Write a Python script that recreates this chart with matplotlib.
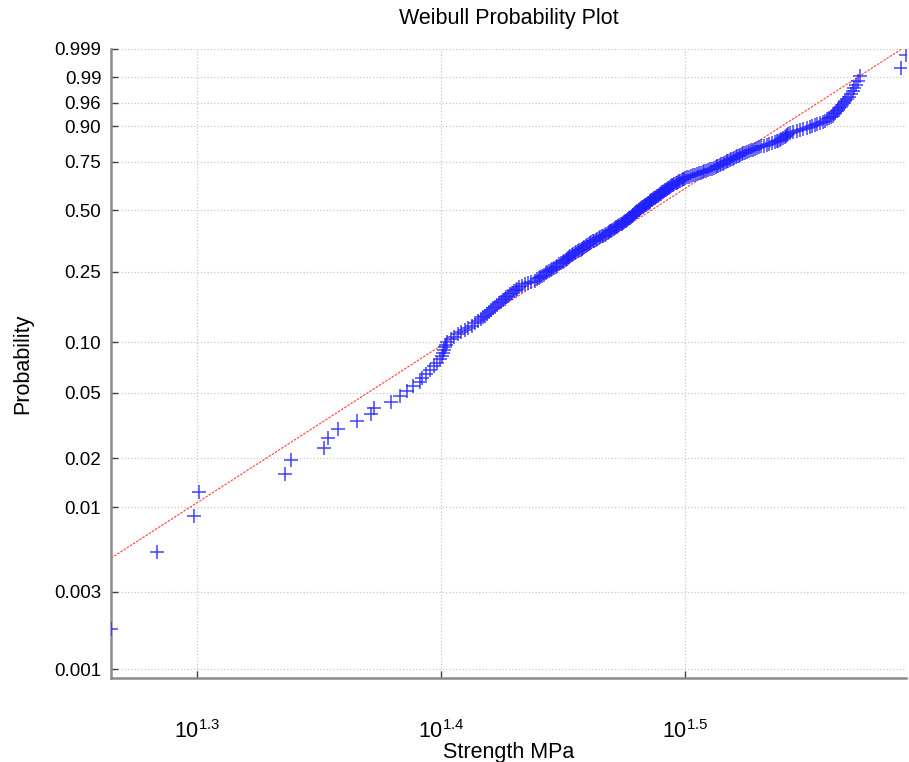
import numpy as np
import matplotlib
matplotlib.use('Agg')
import matplotlib.pyplot as plt

# sorted strength values (MPa)
strength = [
    18.40, 19.21, 19.90, 20.00, 21.69, 21.80, 22.50, 22.59, 22.79, 23.20,
    23.51, 23.58, 23.97, 24.16, 24.34, 24.47, 24.63, 24.67, 24.76, 24.86,
    24.95, 25.03, 25.11, 25.15, 25.18, 25.20, 25.22, 25.24, 25.27, 25.36,
    25.44, 25.52, 25.61, 25.69, 25.78, 25.86, 25.94, 26.01, 26.08, 26.13,
    26.19, 26.24, 26.29, 26.34, 26.39, 26.44, 26.49, 26.54, 26.58, 26.63,
    26.68, 26.72, 26.77, 26.82, 26.86, 26.91, 26.96, 27.00, 27.05, 27.12,
    27.20, 27.28, 27.36, 27.44, 27.51, 27.55, 27.59, 27.64, 27.69, 27.73,
    27.77, 27.81, 27.86, 27.90, 27.95, 27.99, 28.04, 28.09, 28.13, 28.18,
    28.22, 28.27, 28.30, 28.33, 28.35, 28.38, 28.42, 28.46, 28.50, 28.54,
    28.58, 28.62, 28.66, 28.69, 28.73, 28.76, 28.80, 28.84, 28.88, 28.92,
    28.95, 29.00, 29.03, 29.08, 29.11, 29.16, 29.19, 29.24, 29.28, 29.32,
    29.36, 29.40, 29.43, 29.47, 29.50, 29.53, 29.57, 29.60, 29.63, 29.67,
    29.70, 29.73, 29.76, 29.79, 29.82, 29.85, 29.88, 29.91, 29.94, 29.97,
    30.00, 30.02, 30.05, 30.07, 30.10, 30.12, 30.15, 30.17, 30.20, 30.22,
    30.24, 30.27, 30.29, 30.32, 30.35, 30.38, 30.40, 30.43, 30.45, 30.48,
    30.51, 30.53, 30.56, 30.59, 30.61, 30.64, 30.66, 30.69, 30.72, 30.74,
    30.77, 30.80, 30.82, 30.85, 30.88, 30.91, 30.93, 30.96, 30.99, 31.01,
    31.04, 31.07, 31.09, 31.12, 31.15, 31.18, 31.20, 31.24, 31.28, 31.31,
    31.35, 31.39, 31.42, 31.46, 31.49, 31.53, 31.56, 31.60, 31.64, 31.70,
    31.75, 31.81, 31.87, 31.93, 31.98, 32.04, 32.10, 32.16, 32.21, 32.27,
    32.33, 32.39, 32.45, 32.50, 32.56, 32.60, 32.64, 32.69, 32.73, 32.77,
    32.82, 32.87, 32.91, 32.95, 33.00, 33.04, 33.09, 33.13, 33.18, 33.23,
    33.28, 33.32, 33.37, 33.42, 33.48, 33.54, 33.60, 33.66, 33.73, 33.78,
    33.85, 33.91, 33.98, 34.08, 34.17, 34.25, 34.34, 34.43, 34.50, 34.54,
    34.59, 34.63, 34.68, 34.74, 34.78, 34.83, 34.87, 34.93, 35.03, 35.14,
    35.25, 35.36, 35.48, 35.57, 35.65, 35.74, 35.83, 35.93, 36.03, 36.08,
    36.15, 36.22, 36.29, 36.35, 36.40, 36.44, 36.49, 36.53, 36.58, 36.63,
    36.68, 36.73, 36.79, 36.85, 36.92, 36.99, 37.05, 37.10, 37.16, 37.22,
    37.29, 38.77, 38.96,
]

prob_ticks = [0.001, 0.003, 0.01, 0.02, 0.05, 0.10, 0.25, 0.50, 0.75, 0.90, 0.96, 0.99, 0.999]
prob_labels = ['0.001', '0.003', '0.01', '0.02', '0.05', '0.10', '0.25', '0.50',
               '0.75', '0.90', '0.96', '0.99', '0.999']
x_tick_exp = [1.3, 1.4, 1.5]

# reference line (weibull fit)
wbl_scale = 31.81
wbl_shape = 9.73

plt.rcParams['font.family'] = ['Liberation Sans', 'DejaVu Sans']
plt.rcParams['mathtext.default'] = 'regular'


def wbl_fwd(p):
    p = np.clip(p, 1e-12, 1 - 1e-12)
    return np.log(-np.log(1 - p))


def wbl_inv(w):
    return 1 - np.exp(-np.exp(w))


x = np.sort(np.array(strength))
n = len(x)
p = (np.arange(1, n + 1) - 0.5) / n

fig = plt.figure(figsize=(9.09, 7.62), dpi=100)
ax = fig.add_axes([111 / 909, 84 / 762, 795 / 909, 629 / 762])

ax.set_xscale('log')
ax.set_yscale('function', functions=(wbl_fwd, wbl_inv))

xl = np.array([x[0], x[-1]])
pl = 1 - np.exp(-(xl / wbl_scale) ** wbl_shape)
ax.plot(xl, pl, color='#ff5050', lw=0.9, ls=(0, (2, 1)), zorder=2)

ax.plot(x, p, '+', color='#2020ff', ms=9.5, mew=1.1, alpha=0.85, zorder=3)

ax.set_xlim(x[0], x[-1])
ax.set_ylim(wbl_inv(wbl_fwd(0.001) - 0.128), 0.999)

ax.set_yticks(prob_ticks)
ax.set_yticklabels(prob_labels)
ax.minorticks_off()
ax.set_xticks([10 ** e for e in x_tick_exp])
ax.set_xticklabels([r'$10^{%.1f}$' % e for e in x_tick_exp])
ax.xaxis.set_minor_locator(matplotlib.ticker.NullLocator())
ax.yaxis.set_minor_locator(matplotlib.ticker.NullLocator())

ax.grid(True, color='#c8c8c8', ls=':', lw=0.9)
ax.set_axisbelow(True)

for s in ['top', 'right']:
    ax.spines[s].set_visible(False)
for s in ['left', 'bottom']:
    ax.spines[s].set_color('#8a8a8a')
    ax.spines[s].set_linewidth(1.8)

ax.tick_params(axis='both', direction='in', length=5, width=1, color='#404040')
ax.tick_params(axis='y', labelsize=13.5, pad=7)
ax.tick_params(axis='x', labelsize=15.5, pad=30)

ax.set_title('Weibull Probability Plot', fontsize=15.5, pad=18)
ax.set_xlabel('Strength MPa', fontsize=15.5)
ax.xaxis.set_label_coords(0.5, -0.102)
ax.set_ylabel('Probability', fontsize=15.5)
ax.yaxis.set_label_coords(-0.098, 0.5)

fig.savefig('out.png', dpi=100)
